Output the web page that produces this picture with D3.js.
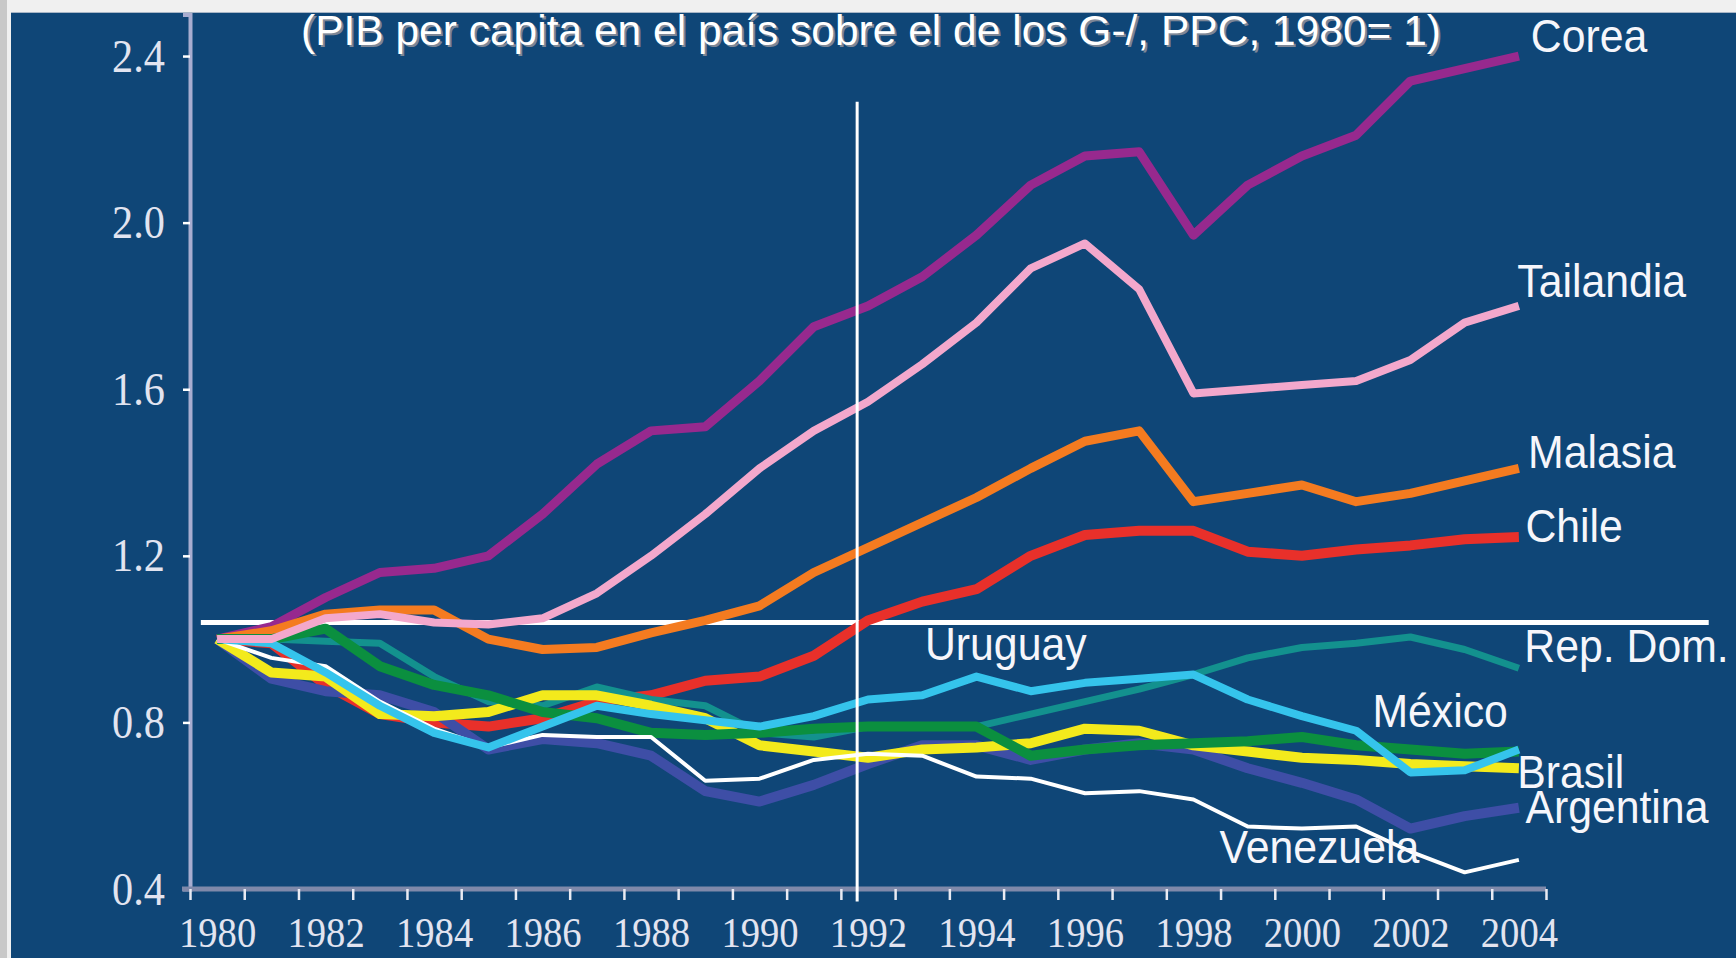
<!DOCTYPE html>
<html>
<head>
<meta charset="utf-8">
<script src="https://cdn.jsdelivr.net/npm/d3@7"></script>
<style>
  body { margin: 0; background: #f0f0f0; }
  svg { display: block; }
</style>
</head>
<body>
<div id="chart"></div>
<script>
// years on the category axis
const years = d3.range(1980, 2005);
const yTicks = [0.4, 0.8, 1.2, 1.6, 2.0, 2.4];
const xLabelYears = d3.range(1980, 2005, 2);

// PIB per capita relative to G-7 (1980 = 1)
const corea     = [1.00,1.03,1.10,1.16,1.17,1.20,1.30,1.42,1.50,1.51,1.62,1.75,1.80,1.87,1.97,2.09,2.16,2.17,1.97,2.09,2.16,2.21,2.34,2.37,2.40];
const tailandia = [1.00,1.00,1.05,1.06,1.04,1.035,1.05,1.11,1.20,1.30,1.41,1.50,1.57,1.66,1.76,1.89,1.95,1.84,1.59,1.60,1.61,1.62,1.67,1.76,1.80];
const malasia   = [1.00,1.02,1.06,1.07,1.07,1.00,0.975,0.98,1.015,1.045,1.08,1.16,1.22,1.28,1.34,1.41,1.475,1.50,1.33,1.35,1.37,1.33,1.35,1.38,1.41];
const chile     = [1.00,0.99,0.89,0.82,0.80,0.79,0.81,0.85,0.865,0.90,0.91,0.96,1.045,1.09,1.12,1.20,1.25,1.26,1.26,1.21,1.20,1.215,1.225,1.24,1.245];
const repDom    = [1.00,1.00,0.995,0.99,0.91,0.85,0.84,0.885,0.855,0.84,0.775,0.765,0.79,0.79,0.79,0.82,0.85,0.88,0.915,0.955,0.98,0.99,1.005,0.975,0.93];
const argentina = [1.00,0.905,0.875,0.865,0.825,0.735,0.76,0.75,0.72,0.635,0.61,0.65,0.70,0.745,0.745,0.71,0.735,0.75,0.735,0.69,0.655,0.615,0.545,0.575,0.595];
const venezuela = [1.00,0.955,0.935,0.85,0.785,0.74,0.77,0.765,0.765,0.66,0.665,0.71,0.725,0.72,0.67,0.665,0.63,0.635,0.615,0.55,0.545,0.55,0.49,0.44,0.47];
const brasil    = [1.00,0.92,0.91,0.82,0.815,0.825,0.865,0.865,0.84,0.81,0.745,0.73,0.715,0.735,0.74,0.75,0.785,0.78,0.745,0.73,0.715,0.71,0.70,0.695,0.69];
const mexico    = [1.00,1.00,1.025,0.935,0.89,0.865,0.825,0.81,0.775,0.77,0.775,0.785,0.79,0.79,0.79,0.72,0.735,0.745,0.75,0.755,0.765,0.745,0.735,0.725,0.73];
const uruguay   = [1.00,0.99,0.92,0.84,0.775,0.74,0.79,0.84,0.82,0.805,0.79,0.815,0.855,0.865,0.91,0.875,0.895,0.905,0.915,0.855,0.815,0.78,0.68,0.685,0.735];

// G-7 reference level and the 1992 marker
const refLevel = 1.04;
const refSpan = [1979.7, 2007.5];
const markYear = 1991.8;
const markSpan = [0.37, 2.29];

// drawing order, colours, widths and label anchors (in data space)
const series = [
  { name: "Corea",      values: corea,     color: "#97298e", width: 9,  label: [2004.22, 2.41] },
  { name: "Malasia",    values: malasia,   color: "#f47b20", width: 9,  label: [2004.17, 1.411] },
  { name: "Chile",      values: chile,     color: "#e8302a", width: 10, label: [2004.12, 1.233] },
  { name: "Rep. Dom.",  values: repDom,    color: "#13918e", width: 7,  label: [2004.1, 0.945] },
  { name: "Argentina",  values: argentina, color: "#3e4ea6", width: 10, label: [2004.12, 0.558] },
  { name: "Brasil",     values: brasil,    color: "#f3ea1c", width: 10, label: [2003.97, 0.643] },
  { name: "México",     values: mexico,    color: "#0b8f3f", width: 10, label: [2001.3, 0.789] },
  { name: "Venezuela",  values: venezuela, color: "#ffffff", width: 4,  label: [1998.48, 0.462] },
  { name: "Uruguay",    values: uruguay,   color: "#35c4ec", width: 8,  label: [1993.05, 0.95] },
  { name: "Tailandia",  values: tailandia, color: "#f3a8cc", width: 8,  label: [2003.97, 1.821] }
];

const title = "(PIB per capita en el país sobre el de los G-/, PPC, 1980= 1)";

const W = 1736, H = 958;
const svg = d3.select("#chart").append("svg")
  .attr("width", W)
  .attr("height", H);

// frame: light page edge and the blue slide panel
svg.append("rect").attr("width", W).attr("height", H).attr("fill", "#f0f0f0");
svg.append("rect").attr("x", 0).attr("y", 0).attr("width", 7).attr("height", H).attr("fill", "#c8c8c8");
svg.append("rect").attr("x", 11).attr("y", 12).attr("width", W - 11).attr("height", H - 12).attr("fill", "#a8b6c6");
svg.append("rect").attr("x", 11).attr("y", 13).attr("width", W - 11).attr("height", H - 13).attr("fill", "#0f4677");

const x = d3.scaleLinear().domain([1979.5, 2004.5]).range([190, 1546]);
const y = d3.scaleLinear().domain([0.4, 2.5]).range([889, 14.4]);

const serif = "'Liberation Serif', 'Times New Roman', serif";
const sans = "'Liberation Sans', Arial, sans-serif";

// title with drop shadow
const titleX = 871, titleY = 45;
[["#7d8797", 2], ["#ffffff", 0]].forEach(([fill, off]) => {
  svg.append("text")
    .attr("x", titleX + off)
    .attr("y", titleY + off)
    .attr("text-anchor", "middle")
    .attr("font-family", sans)
    .attr("font-size", 42)
    .attr("textLength", 1140)
    .attr("lengthAdjust", "spacingAndGlyphs")
    .attr("fill", fill)
    .text(title);
});

// y axis
const yAxis = svg.append("g")
  .attr("transform", `translate(${x.range()[0]},0)`)
  .call(d3.axisLeft(y).tickValues(yTicks).tickSize(7).tickFormat(d3.format(".1f")));
yAxis.select(".domain").attr("stroke", "#a8add0").attr("stroke-width", 4);
yAxis.selectAll(".tick line").attr("stroke", "#ffffff").attr("stroke-width", 2.5);
yAxis.selectAll(".tick text")
  .attr("x", null).attr("dy", null)
  .attr("transform", "translate(-25,15) scale(0.92,1)")
  .attr("font-family", serif)
  .attr("font-size", 46)
  .attr("fill", "#e2e4f0");

// x axis: tick marks on category boundaries
const xAxis = svg.append("g")
  .attr("transform", `translate(0,${y.range()[0]})`)
  .call(d3.axisBottom(x).tickValues(d3.range(1979.5, 2005, 1)).tickSize(11).tickSizeOuter(0).tickFormat(""));
xAxis.select(".domain").attr("stroke", "#7f89aa").attr("stroke-width", 5)
  .attr("d", `M${x.range()[0] - 8},0H${x.range()[1]}`);
xAxis.selectAll(".tick line").attr("stroke", "#e8eaf2").attr("stroke-width", 2.5);

// x labels every second year
const xLab = svg.append("g")
  .attr("transform", `translate(0,${y.range()[0]})`)
  .call(d3.axisBottom(x).tickValues(xLabelYears).tickSize(0).tickFormat(d3.format("d")));
xLab.select(".domain").remove();
xLab.selectAll(".tick text")
  .attr("y", null).attr("dy", null)
  .attr("transform", "translate(0,58) scale(0.92,1)")
  .attr("font-family", serif)
  .attr("font-size", 42)
  .attr("fill", "#e2e4f0");

// G-7 level
svg.append("line")
  .attr("x1", x(refSpan[0])).attr("x2", x(refSpan[1]))
  .attr("y1", y(refLevel)).attr("y2", y(refLevel))
  .attr("stroke", "#ffffff").attr("stroke-width", 5);

// lines
const line = d3.line()
  .x((d, i) => x(years[i]))
  .y(d => y(d));

svg.append("g").selectAll("path")
  .data(series)
  .join("path")
    .attr("d", d => line(d.values))
    .attr("fill", "none")
    .attr("stroke", d => d.color)
    .attr("stroke-width", d => d.width)
    .attr("stroke-linejoin", "round");

// 1992 marker
svg.append("line")
  .attr("x1", x(markYear)).attr("x2", x(markYear))
  .attr("y1", y(markSpan[0])).attr("y2", y(markSpan[1]))
  .attr("stroke", "#ffffff").attr("stroke-width", 3);

// series labels
svg.append("g").selectAll("text")
  .data(series)
  .join("text")
    .attr("transform", d => `translate(${x(d.label[0])},${y(d.label[1])}) scale(0.91,1)`)
    .attr("font-family", sans)
    .attr("font-size", 47)
    .attr("fill", "#f6f6fb")
    .text(d => d.name);
</script>
</body>
</html>
